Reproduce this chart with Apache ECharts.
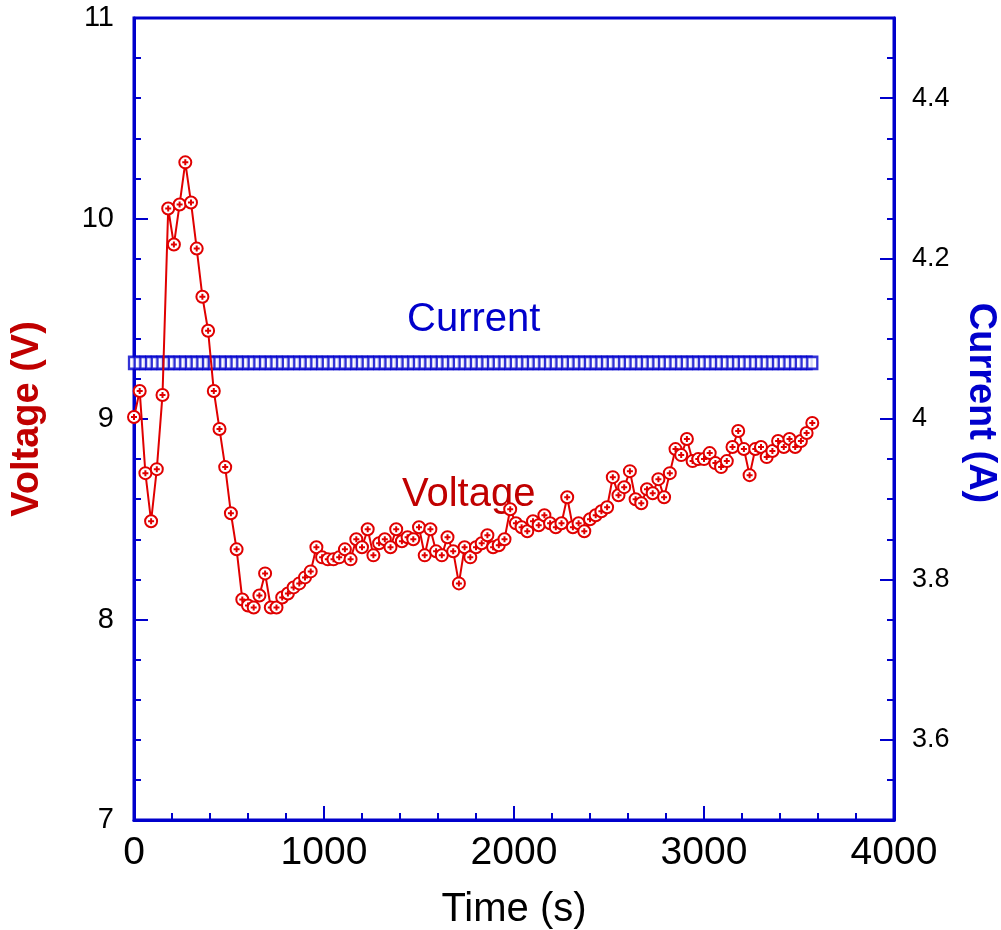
<!DOCTYPE html>
<html>
<head>
<meta charset="utf-8">
<script src="https://cdn.jsdelivr.net/npm/echarts@6/dist/echarts.min.js"></script>
<style>
html,body{margin:0;padding:0;background:#fff;}
#chart{width:1001px;height:930px;}
</style>
</head>
<body>
<div id="chart"></div>
<script>
var times = [0,30,60,90,120,150,180,210,240,270,300,330,360,390,420,450,480,510,540,570,
600,630,660,690,720,750,780,810,840,870,900,930,960,990,1020,1050,1080,1110,1140,1170,
1200,1230,1260,1290,1320,1350,1380,1410,1440,1470,1500,1530,1560,1590,1620,1650,1680,1710,1740,1770,
1800,1830,1860,1890,1920,1950,1980,2010,2040,2070,2100,2130,2160,2190,2220,2250,2280,2310,2340,2370,
2400,2430,2460,2490,2520,2550,2580,2610,2640,2670,2700,2730,2760,2790,2820,2850,2880,2910,2940,2970,
3000,3030,3060,3090,3120,3150,3180,3210,3240,3270,3300,3330,3360,3390,3420,3450,3480,3510,3540,3570];

var voltage = [9.01,9.14,8.73,8.49,8.75,9.12,10.05,9.87,10.07,10.28,10.08,9.85,9.61,9.44,9.14,8.95,8.76,8.53,8.35,8.10,
8.07,8.06,8.12,8.23,8.06,8.06,8.11,8.13,8.16,8.18,8.21,8.24,8.36,8.31,8.30,8.30,8.31,8.35,8.30,8.40,
8.36,8.45,8.32,8.38,8.40,8.36,8.45,8.39,8.41,8.40,8.46,8.32,8.45,8.34,8.32,8.41,8.34,8.18,8.36,8.31,
8.36,8.38,8.42,8.36,8.37,8.40,8.55,8.48,8.46,8.44,8.49,8.47,8.52,8.48,8.46,8.48,8.61,8.46,8.48,8.44,
8.50,8.52,8.54,8.56,8.71,8.62,8.66,8.74,8.60,8.58,8.65,8.63,8.70,8.61,8.73,8.85,8.82,8.90,8.79,8.80,
8.80,8.83,8.78,8.76,8.79,8.86,8.94,8.85,8.72,8.85,8.86,8.81,8.84,8.89,8.86,8.90,8.86,8.89,8.93,8.98];

var current = [4.07,4.07,4.07,4.07,4.07,4.07,4.07,4.07,4.07,4.07,4.07,4.07,4.07,4.07,4.07,4.07,4.07,4.07,4.07,4.07,
4.07,4.07,4.07,4.07,4.07,4.07,4.07,4.07,4.07,4.07,4.07,4.07,4.07,4.07,4.07,4.07,4.07,4.07,4.07,4.07,
4.07,4.07,4.07,4.07,4.07,4.07,4.07,4.07,4.07,4.07,4.07,4.07,4.07,4.07,4.07,4.07,4.07,4.07,4.07,4.07,
4.07,4.07,4.07,4.07,4.07,4.07,4.07,4.07,4.07,4.07,4.07,4.07,4.07,4.07,4.07,4.07,4.07,4.07,4.07,4.07,
4.07,4.07,4.07,4.07,4.07,4.07,4.07,4.07,4.07,4.07,4.07,4.07,4.07,4.07,4.07,4.07,4.07,4.07,4.07,4.07,
4.07,4.07,4.07,4.07,4.07,4.07,4.07,4.07,4.07,4.07,4.07,4.07,4.07,4.07,4.07,4.07,4.07,4.07,4.07,4.07];

var xTicks = [0,1000,2000,3000,4000];
var vTicks = [7,8,9,10,11];
var iTicks = [3.6,3.8,4.0,4.2,4.4];

var BLUE = '#0000cc';
var RED = '#e00000';
var DARKRED = '#c00000';
var FONT = '"Liberation Sans", Arial, sans-serif';

var vData = times.map(function(t,i){return [t, voltage[i]];});
var iData = times.map(function(t,i){return [t, current[i]];});

var chart = echarts.init(document.getElementById('chart'), null, {renderer:'canvas'});
var option = {
  animation:false,
  backgroundColor:'#fff',
  textStyle:{fontFamily:FONT},
  grid:{left:134,right:107,top:18,bottom:110,containLabel:false,outerBoundsMode:'none',
    show:true,borderColor:BLUE,borderWidth:3,backgroundColor:'transparent'},
  xAxis:{
    type:'value',min:xTicks[0],max:xTicks[xTicks.length-1],interval:1000,
    name:'Time (s)',nameLocation:'middle',nameGap:70,
    nameTextStyle:{fontSize:40,color:'#000',fontFamily:FONT},
    axisLine:{show:true,lineStyle:{color:BLUE,width:3}},
    axisTick:{show:true,inside:true,length:14,lineStyle:{color:BLUE,width:2}},
    minorTick:{show:true,splitNumber:5,length:7,lineStyle:{color:BLUE,width:2}},
    axisLabel:{fontSize:39,color:'#000',margin:14,fontFamily:FONT,
      formatter:function(v){return String(v);}},
    splitLine:{show:false}
  },
  yAxis:[{
    type:'value',position:'left',min:vTicks[0],max:vTicks[vTicks.length-1],interval:1,
    name:'Voltage (V)',nameLocation:'middle',nameGap:87,nameRotate:90,
    nameTextStyle:{fontSize:38,fontWeight:'bold',color:DARKRED,fontFamily:FONT},
    axisLine:{show:true,lineStyle:{color:BLUE,width:3}},
    axisTick:{show:true,inside:true,length:14,lineStyle:{color:BLUE,width:2}},
    minorTick:{show:true,splitNumber:5,length:7,lineStyle:{color:BLUE,width:2}},
    axisLabel:{fontSize:29,color:'#000',margin:20,fontFamily:FONT},
    splitLine:{show:false}
  },{
    type:'value',position:'right',min:3.5,max:4.5,interval:0.05,
    axisLine:{show:true,lineStyle:{color:BLUE,width:3}},
    axisTick:{show:true,inside:true,length:7,lineStyle:{color:BLUE,width:2}},
    axisLabel:{show:false},
    splitLine:{show:false}
  },{
    type:'value',position:'right',min:3.5,max:4.5,
    axisLine:{show:false},
    axisTick:{show:true,inside:true,length:14,customValues:iTicks,lineStyle:{color:BLUE,width:2}},
    axisLabel:{show:true,customValues:iTicks,fontSize:27,color:'#000',margin:18,fontFamily:FONT,
      formatter:function(v){return String(Math.round(v*10)/10);}},
    splitLine:{show:false}
  }],
  series:[{
    name:'Current',type:'scatter',xAxisIndex:0,yAxisIndex:1,data:iData,
    symbol:'rect',symbolSize:[10,12],
    itemStyle:{color:'#fff',borderColor:BLUE,borderWidth:2.5},
    z:2
  },{
    name:'Voltage',type:'line',xAxisIndex:0,yAxisIndex:0,data:vData,
    symbol:'path://M10,0A10,10,0,1,1,10,20A10,10,0,1,1,10,0ZM10,5L10,15M5,10L15,10',
    symbolSize:12,showAllSymbol:true,
    lineStyle:{color:RED,width:2},
    itemStyle:{color:'#fff',borderColor:RED,borderWidth:2},
    z:3
  }],
  graphic:[{
    type:'text',left:407,top:300,
    style:{text:'Current',fontSize:40,fontFamily:FONT,fill:BLUE}
  },{
    type:'text',left:402,top:475,
    style:{text:'Voltage',fontSize:40,fontFamily:FONT,fill:DARKRED}
  },{
    type:'text',x:980,y:403,rotation:-Math.PI/2,
    style:{text:'Current (A)',fontSize:38,fontWeight:'bold',fontFamily:FONT,fill:BLUE,
      align:'center',verticalAlign:'middle'}
  }]
};
chart.setOption(option);
</script>
</body>
</html>
